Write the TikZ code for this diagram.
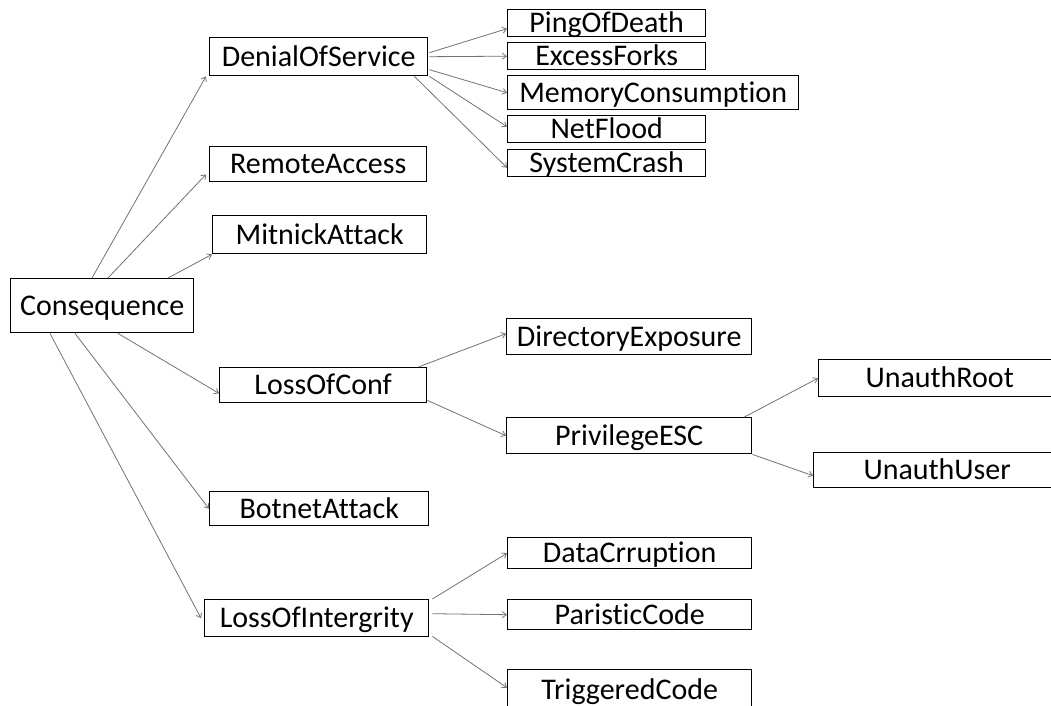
\documentclass[tikz,border=0pt]{standalone}
\usepackage{fontspec}
\setmainfont{Carlito}[Ligatures={NoCommon}]
\usetikzlibrary{arrows.meta}
\begin{document}
\begin{tikzpicture}[x=1pt,y=-1pt,
  box/.style={draw=black,line width=1.4pt,rectangle,inner sep=0pt,anchor=north west,
    font=\fontsize{30}{35}\selectfont,text height=19.3pt,text depth=0pt},
  arr/.style={draw=black!55,line width=0.8pt,-{Straight Barb[length=4pt,width=6pt]}}]
\useasboundingbox (0,0) rectangle (1051,706);
\clip (0,0) rectangle (1051,706);
\fill[white] (0,0) rectangle (1051,706);
% nodes: (x1,y1), width, height
\node[box,minimum width=183pt,minimum height=54pt] (cons) at (10,278) {Consequence};
\node[box,minimum width=218pt,minimum height=38pt] (dos) at (209,37) {DenialOfService};
\node[box,minimum width=217pt,minimum height=35pt] (remote) at (209,146) {RemoteAccess};
\node[box,minimum width=214pt,minimum height=38pt] (mitnick) at (212,215) {MitnickAttack};
\node[box,minimum width=207pt,minimum height=35pt] (loc) at (219,367) {LossOfConf};
\node[box,minimum width=219pt,minimum height=34pt] (botnet) at (209,491) {BotnetAttack};
\node[box,minimum width=224pt,minimum height=37pt] (loi) at (204,599) {LossOfIntergrity};
\node[box,minimum width=198pt,minimum height=27pt] (ping) at (507,9) {PingOfDeath};
\node[box,minimum width=198pt,minimum height=27pt] (forks) at (507,42) {ExcessForks};
\node[box,minimum width=291pt,minimum height=34pt] (mem) at (507,75) {MemoryConsumption};
\node[box,minimum width=198pt,minimum height=27pt] (netflood) at (507,115) {NetFlood};
\node[box,minimum width=198pt,minimum height=27pt] (crash) at (507,149) {SystemCrash};
\node[box,minimum width=245pt,minimum height=36pt] (dir) at (506,318) {DirectoryExposure};
\node[box,minimum width=245pt,minimum height=36pt] (priv) at (506,417) {PrivilegeESC};
\node[box,minimum width=242pt,minimum height=37pt] (uroot) at (818,359) {UnauthRoot};
\node[box,minimum width=247pt,minimum height=35pt] (uuser) at (813,452) {UnauthUser};
\node[box,minimum width=244pt,minimum height=31pt] (data) at (507,537) {DataCrruption};
\node[box,minimum width=244pt,minimum height=30pt] (paris) at (507,599) {ParisticCode};
\node[box,minimum width=244pt,minimum height=41pt] (trig) at (507,669) {TriggeredCode};
% connectors from Consequence
\draw[arr] ([xshift=82pt]cons.north west) -- ([xshift=-3pt]dos.south west);
\draw[arr] ([xshift=98pt]cons.north west) -- ([xshift=-3pt,yshift=8pt]remote.south west);
\draw[arr] ([xshift=158pt]cons.north west) -- (mitnick.south west);
\draw[arr] ([xshift=108pt]cons.south west) -- ([yshift=10pt]loc.south west);
\draw[arr] ([xshift=65pt]cons.south west) -- (botnet.west);
\draw[arr] ([xshift=40pt]cons.south west) -- ([xshift=-3pt]loi.west);
% DenialOfService children
\draw[arr] ([xshift=1pt,yshift=4pt]dos.east) -- ([yshift=-5.5pt]ping.west);
\draw[arr] ([xshift=1pt]dos.east) -- (forks.west);
\draw[arr] ([xshift=1pt,yshift=-13pt]dos.east) -- (mem.west);
\draw[arr] ([xshift=1pt]dos.south east) -- ([yshift=2.5pt]netflood.west);
\draw[arr] ([xshift=-14pt]dos.south east) -- ([yshift=-4.5pt]crash.west);
% LossOfConf children
\draw[arr] ([xshift=-9pt]loc.north east) -- ([yshift=3pt]dir.west);
\draw[arr] ([yshift=3pt]loc.south east) -- (priv.west);
\draw[arr] ([xshift=-8pt]priv.north east) -- (uroot.west);
\draw[arr] (priv.south east) -- ([yshift=-5.5pt]uuser.west);
% LossOfIntergrity children
\draw[arr] ([xshift=3pt]loi.north east) -- (data.west);
\draw[arr] ([xshift=3pt,yshift=4.5pt]loi.east) -- (paris.west);
\draw[arr] ([xshift=3pt,yshift=1pt]loi.south east) -- ([yshift=2.5pt]trig.west);
\end{tikzpicture}
\end{document}
